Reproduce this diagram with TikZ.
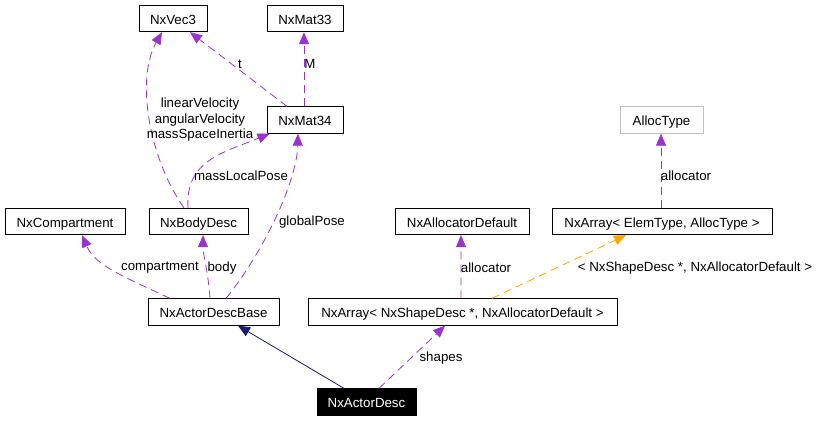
\documentclass[tikz,border=0pt]{standalone}
\usepackage{fontspec}
\setmainfont{Liberation Sans}
\usetikzlibrary{arrows.meta}
\definecolor{edgepurple}{HTML}{9A32CD}
\definecolor{edgeorange}{HTML}{FFA500}
\definecolor{edgenavy}{HTML}{191970}
\definecolor{graybox}{HTML}{BFBFBF}
\newcommand\labfont{\fontsize{13.3bp}{15.5bp}\selectfont}
\begin{document}
\begin{tikzpicture}[x=1bp,y=-1bp,
  cls/.style={draw=black, line width=0.8bp, minimum height=26.5bp, inner sep=0pt,
    text height=11bp, text depth=0bp, font=\labfont},
  lbl/.style={inner sep=0pt, font=\labfont, align=center},
  usage/.style={draw=edgepurple, line width=0.8bp, dash pattern=on 8bp off 5bp,
    -{Triangle[length=12bp,width=10bp,fill=edgepurple]}},
  tmpl/.style={draw=edgeorange, line width=0.8bp, dash pattern=on 8bp off 5bp,
    -{Triangle[length=12bp,width=10bp,fill=edgeorange]}},
  inherit/.style={draw=edgenavy, line width=0.8bp,
    -{Triangle[length=12bp,width=10bp,fill=edgenavy]}}]
\useasboundingbox (0,0) rectangle (820,421);
% classes
\node[cls, minimum width=68bp] (vec3) at (173,18.5) {NxVec3};
\node[cls, minimum width=76bp] (mat33) at (305,18.5) {NxMat33};
\node[cls, minimum width=76bp] (mat34) at (305,120) {NxMat34};
\node[cls, draw=graybox, minimum width=83bp] (alloctype) at (661.5,120) {AllocType};
\node[cls, minimum width=120bp] (compartment) at (65,221.5) {NxCompartment};
\node[cls, minimum width=99bp] (bodydesc) at (198.5,221.5) {NxBodyDesc};
\node[cls, minimum width=134bp] (allocdef) at (462,221.5) {NxAllocatorDefault};
\node[cls, minimum width=220bp] (arrayelem) at (662,221.5) {NxArray< ElemType, AllocType >};
\node[cls, minimum width=131bp] (actordescbase) at (213.5,312) {NxActorDescBase};
\node[cls, minimum width=309bp] (arrayshape) at (462.5,312) {NxArray< NxShapeDesc *, NxAllocatorDefault >};
\node[cls, fill=black, text=white, minimum width=99bp] (actordesc) at (366.5,402) {NxActorDesc};
% edges
\draw[inherit] ([xshift=-22.5bp]actordesc.north) -- ([xshift=24.5bp]actordescbase.south);
\draw[usage] ([xshift=12.5bp]actordesc.north) -- ([xshift=-17.5bp]arrayshape.south);
\draw[tmpl] ([xshift=29.5bp]arrayshape.north) -- ([xshift=-36bp]arrayelem.south);
\draw[usage] ([xshift=-1.5bp]arrayshape.north) -- ([xshift=-1bp]allocdef.south);
\draw[usage] ([xshift=-1bp]arrayelem.north) -- ([xshift=-0.5bp]alloctype.south);
\draw[usage] ([xshift=-43.5bp]actordescbase.north) .. controls (120,275) and (95,265) .. ([xshift=17bp]compartment.south);
\draw[usage] ([xshift=-3.5bp]actordescbase.north) .. controls (208,270) and (203,255) .. ([xshift=4.5bp]bodydesc.south);
\draw[usage] ([xshift=12.5bp]actordescbase.north) .. controls (265,250) and (297,180) .. ([xshift=-7bp]mat34.south);
\draw[usage] ([xshift=-10.5bp]bodydesc.north) .. controls (185,160) and (225,152) .. ([xshift=3bp]mat34.south west);
\draw[usage] ([xshift=-14.5bp]bodydesc.north) .. controls (150,160) and (135,80) .. ([xshift=-11bp]vec3.south);
\draw[usage] ([xshift=-18bp]mat34.north) -- ([xshift=17bp]vec3.south);
\draw[usage] ([xshift=-1bp]mat34.north) -- ([xshift=-1bp]mat33.south);
% labels
\node[lbl] (lt) at (240,64) {t};
\node[lbl] (lm) at (310,64) {M};
\node[lbl] (lvel) at (200,120) {linearVelocity\\angularVelocity\\massSpaceInertia};
\node[lbl] (lmlp) at (241,176) {massLocalPose};
\node[lbl] (lgp) at (312,222) {globalPose};
\node[lbl] (lcomp) at (160,268) {compartment};
\node[lbl] (lbody) at (222,268) {body};
\node[lbl] (lalloc) at (486,268) {allocator};
\node[lbl] (lalloc2) at (686,176) {allocator};
\node[lbl] (ltmpl) at (695,268) {< NxShapeDesc *, NxAllocatorDefault >};
\node[lbl] (lshapes) at (441,358) {shapes};
\end{tikzpicture}
\end{document}
